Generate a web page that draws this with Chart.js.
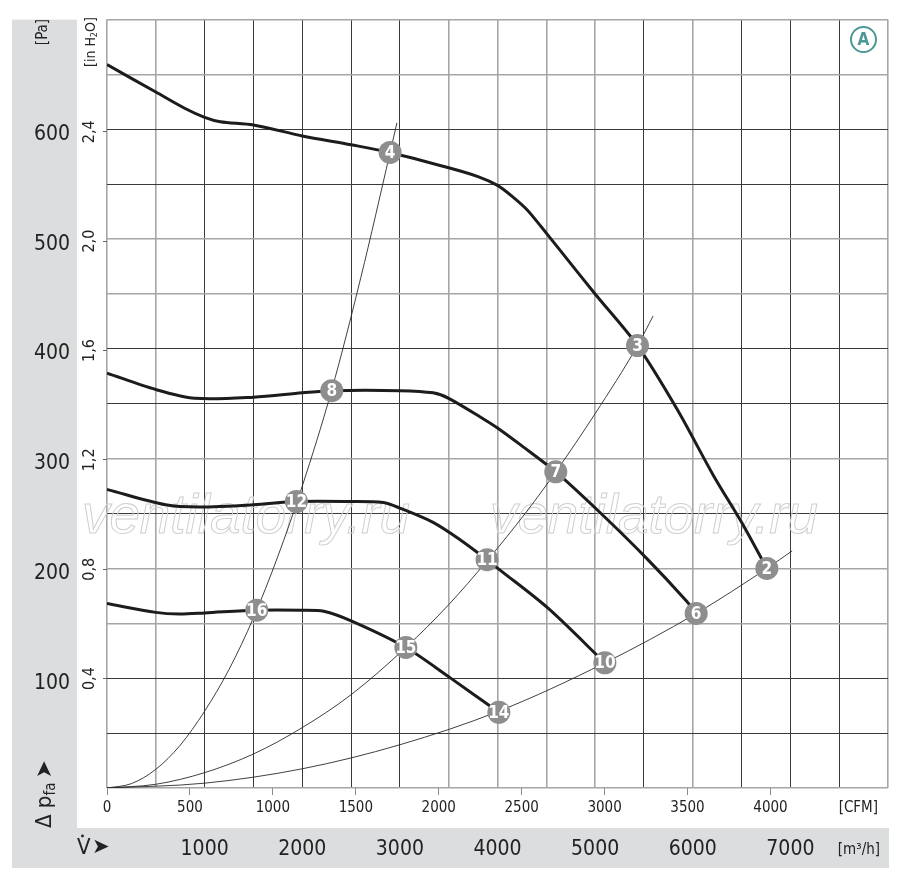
<!DOCTYPE html>
<html>
<head>
<meta charset="utf-8">
<script src="https://cdn.jsdelivr.net/npm/chart.js@4.4.1/dist/chart.umd.min.js"></script>
<style>
  html, body { margin: 0; padding: 0; background: #fff; }
  canvas { display: block; }
</style>
</head>
<body>
<canvas id="fanChart" width="900" height="880"></canvas>
<script>
// fan curves, flow in m3/h, static pressure in Pa
const curveTop = [[0, 659], [500, 634], [800, 619], [1000, 611], [1160, 607], [1500, 604], [2000, 594], [2500, 586], [2900, 579], [3500, 565], [3800, 557], [4000, 549], [4150, 539], [4300, 527], [4450, 511], [4640, 490], [5000, 450], [5434, 403], [5840, 345], [6210, 285], [6520, 239], [6759, 200]];
const curveMid = [[0, 378], [500, 363], [900, 355], [1500, 356], [2000, 360], [2302, 362], [3000, 362], [3340, 360], [3500, 355], [3860, 336], [4000, 328], [4230, 313], [4597, 288], [5050, 251], [5530, 209], [5940, 170], [6035, 159]];
const curveLow = [[0, 272], [600, 258], [950, 256], [1500, 258], [1940, 261], [2490, 261], [2830, 260], [3000, 255], [3340, 242], [3620, 226], [3893, 208], [4020, 199], [4515, 164], [5100, 114]];
const curveBottom = [[0, 168], [500, 160], [740, 158.5], [1000, 159.5], [1534, 162], [2000, 162], [2220, 161], [2507, 152], [3061, 128], [3506, 101], [4014, 69]];

// system resistance curves (thin)
const sysSteep = [[0, 0], [250, 4], [500, 17], [750, 39], [1000, 70], [1250, 108], [1500, 155], [1750, 211], [2000, 275], [2300, 362], [2600, 465], [2900, 579], [2970, 606]];
const sysMid = [[0, 0], [500, 3.4], [1000, 14], [1500, 31], [2000, 55], [2500, 85], [3061, 128], [3500, 167], [3893, 207], [4300, 252], [4597, 288], [5000, 341], [5434, 403], [5594, 430]];
const sysFlat = [[0, 0], [1000, 4.4], [2000, 17.5], [3000, 39.4], [4014, 70], [5100, 114], [6035, 159], [6759, 200], [7018, 216]];

// numbered operating points
const markerIds = [4, 3, 2, 8, 7, 6, 12, 11, 10, 16, 15, 14];
const markerFlow = [2900, 5434, 6759, 2302, 4597, 6035, 1940, 3893, 5100, 1534, 3061, 4014];
const markerPa = [579, 403, 200, 362, 288, 159, 261, 208, 114, 162, 128, 69];

// tick labels
const paLabels = [100, 200, 300, 400, 500, 600];
const inH2OTicks = [0.4, 0.8, 1.2, 1.6, 2.0, 2.4];
const inH2OLabels = ["0,4", "0,8", "1,2", "1,6", "2,0", "2,4"];
const cfmTicks = [0, 500, 1000, 1500, 2000, 2500, 3000, 3500, 4000];
const m3hLabels = [1000, 2000, 3000, 4000, 5000, 6000, 7000];

const M3H_PER_CFM = 1.699;
const PA_PER_INH2O = 249.09;
const X_MAX = 8000;
const Y_MAX = 700;

const FONT = "'Liberation Sans Narrow', 'DejaVu Sans Condensed', 'Roboto', sans-serif";
Chart.defaults.font.family = FONT;

// some grid lines print lighter in the original sheet
const GRID_DARK = "#3a3a3a";
const GRID_LIGHT = "#a6a6a6";
const lightX = [0, 1, 7, 8, 9, 10, 12, 16];
const lightY = [0, 3, 4, 6, 9, 10, 13, 14];

const toXY = (pairs) => pairs.map(([x, y]) => ({ x, y }));

function curve(pairs, width) {
    const thick = width > 2;
    return {
        data: toXY(pairs),
        showLine: true,
        borderColor: thick ? "#1c1c1c" : "#2a2a2a",
        borderWidth: width,
        pointRadius: 0,
        tension: thick ? 0.3 : 0.4,
        cubicInterpolationMode: thick ? "default" : "monotone",
    };
}

function rotatedText(ctx, text, x, y, font, align) {
    ctx.save();
    ctx.translate(x, y);
    ctx.rotate(-Math.PI / 2);
    ctx.font = font;
    ctx.textAlign = align || "center";
    ctx.textBaseline = "middle";
    ctx.fillText(text, 0, 0);
    ctx.restore();
}

const panels = {
    id: "panels",
    beforeDraw(chart) {
        const { ctx, chartArea, scales } = chart;
        ctx.save();
        ctx.fillStyle = "#dcdddf";
        const left = scales.y.left;
        const right = scales.y.right;
        const bottom = scales.x.bottom;
        ctx.fillRect(left, chartArea.top, right - left, bottom - chartArea.top);
        ctx.fillRect(left, scales.x.top, chartArea.right + 1 - left, bottom - scales.x.top);
        ctx.restore();
    },
};

const watermark = {
    id: "watermark",
    beforeDatasetsDraw(chart) {
        const { ctx } = chart;
        ctx.save();
        ctx.strokeStyle = "#cfcfcf";
        ctx.lineWidth = 1;
        ctx.font = "italic 46px 'Liberation Sans', Arial, sans-serif";
        const text = "ventilatorry.ru";
        const w = ctx.measureText(text).width;
        const size = 46 * 328 / w;
        ctx.font = `italic ${size}px 'Liberation Sans', Arial, sans-serif`;
        ctx.textBaseline = "alphabetic";
        ctx.strokeText(text, 82, 533);
        ctx.strokeText(text, 490, 533);
        ctx.restore();
    },
};

const markerText = {
    id: "markerText",
    afterDatasetsDraw(chart) {
        const { ctx } = chart;
        const meta = chart.getDatasetMeta(0);
        ctx.save();
        ctx.fillStyle = "#ffffff";
        ctx.font = `bold 17px ${FONT}`;
        ctx.textAlign = "center";
        ctx.textBaseline = "middle";
        meta.data.forEach((pt, i) => {
            ctx.fillText(String(markerIds[i]), pt.x, pt.y + 1);
        });
        ctx.restore();
    },
};

const titles = {
    id: "titles",
    afterDraw(chart) {
        const { ctx, chartArea, scales } = chart;
        ctx.save();
        ctx.fillStyle = "#222";

        rotatedText(ctx, "[Pa]", 43, 32, `15px ${FONT}`);

        // [in H2O] with subscript 2
        ctx.save();
        ctx.translate(91, 67);
        ctx.rotate(-Math.PI / 2);
        ctx.textBaseline = "middle";
        ctx.textAlign = "left";
        ctx.font = `14px ${FONT}`;
        let pos = 0;
        ctx.fillText("[in H", pos, 0);
        pos += ctx.measureText("[in H").width;
        ctx.font = `9px ${FONT}`;
        ctx.fillText("2", pos, 4);
        pos += ctx.measureText("2").width;
        ctx.font = `14px ${FONT}`;
        ctx.fillText("O]", pos, 0);
        ctx.restore();

        // Δ p_fa with arrow
        ctx.save();
        ctx.translate(45, 828);
        ctx.rotate(-Math.PI / 2);
        ctx.textBaseline = "middle";
        ctx.textAlign = "left";
        ctx.font = `22px ${FONT}`;
        pos = 0;
        ctx.fillText("\u0394 p", pos, 0);
        pos += ctx.measureText("\u0394 p").width;
        ctx.font = `15px ${FONT}`;
        ctx.fillText("fa", pos, 6);
        pos += ctx.measureText("fa").width + 4;
        ctx.font = "22px 'DejaVu Sans', sans-serif";
        ctx.fillText("\u27A4", pos, 0);
        ctx.restore();

        // CFM unit
        ctx.font = `15px ${FONT}`;
        ctx.textAlign = "right";
        ctx.textBaseline = "middle";
        ctx.fillText("[CFM]", chartArea.right - 10, scales.xCfm.top + 20);

        // m3/h unit
        ctx.fillText("[m\u00B3/h]", chartArea.right - 8, scales.x.top + 22);

        // V-dot with arrow
        ctx.textAlign = "left";
        ctx.font = `22px ${FONT}`;
        ctx.fillText("V", 77, scales.x.top + 20);
        ctx.beginPath();
        ctx.arc(82.5, scales.x.top + 8, 1.4, 0, Math.PI * 2);
        ctx.fill();
        ctx.font = "21px 'DejaVu Sans', sans-serif";
        ctx.fillText("\u27A4", 92, scales.x.top + 20);

        // curve set badge
        ctx.strokeStyle = "#4b9894";
        ctx.fillStyle = "#4b9894";
        ctx.lineWidth = 2;
        ctx.beginPath();
        ctx.arc(863.5, 39.5, 12.5, 0, Math.PI * 2);
        ctx.stroke();
        ctx.font = `bold 17px ${FONT}`;
        ctx.textAlign = "center";
        ctx.fillText("A", 863.5, 40.5);
        ctx.restore();
    },
};

new Chart(document.getElementById("fanChart"), {
    type: "scatter",
    data: {
        datasets: [
            {
                data: markerFlow.map((x, i) => ({ x, y: markerPa[i] })),
                pointRadius: 11.5,
                pointBackgroundColor: "#8e8e8e",
                pointBorderWidth: 0,
                showLine: false,
            },
            curve(curveTop, 3),
            curve(curveMid, 3),
            curve(curveLow, 3),
            curve(curveBottom, 3),
            curve(sysSteep, 0.9),
            curve(sysMid, 0.9),
            curve(sysFlat, 0.9),
        ],
    },
    options: {
        responsive: false,
        animation: false,
        layout: { padding: { left: 12, right: 12, top: 14, bottom: 12 } },
        plugins: { legend: { display: false }, tooltip: { enabled: false } },
        scales: {
            x: {
                type: "linear",
                position: "bottom",
                weight: 2,
                min: 0,
                max: X_MAX,
                ticks: {
                    stepSize: 500,
                    autoSkip: false,
                    maxRotation: 0,
                    padding: 9,
                    color: "#222",
                    font: { size: 21 },
                    callback: (v) => (m3hLabels.includes(v) ? String(v) : ""),
                },
                grid: {
                    drawTicks: false,
                    color: (c) => (lightX.includes(c.index) ? GRID_LIGHT : GRID_DARK),
                    lineWidth: (c) => (lightX.includes(c.index) ? 1.6 : 1),
                },
                border: { display: false },
                afterFit: (s) => { s.height = 40; },
            },
            xCfm: {
                type: "linear",
                position: "bottom",
                weight: 1,
                min: 0,
                max: X_MAX / M3H_PER_CFM,
                afterBuildTicks: (s) => { s.ticks = cfmTicks.map((v) => ({ value: v })); },
                ticks: {
                    autoSkip: false,
                    maxRotation: 0,
                    padding: 4,
                    color: "#222",
                    font: { size: 15 },
                    callback: (v) => String(v),
                },
                grid: { drawOnChartArea: false, drawTicks: true, tickLength: 7, color: "#8a8a8a" },
                border: { display: false },
                afterFit: (s) => { s.height = 40; },
            },
            y: {
                position: "left",
                weight: 2,
                min: 0,
                max: Y_MAX,
                ticks: {
                    stepSize: 50,
                    autoSkip: false,
                    padding: 7,
                    labelOffset: 5,
                    color: "#222",
                    font: { size: 21 },
                    callback: (v) => (paLabels.includes(v) ? String(v) : ""),
                },
                grid: {
                    drawTicks: false,
                    color: (c) => (lightY.includes(c.index) ? GRID_LIGHT : GRID_DARK),
                    lineWidth: (c) => (lightY.includes(c.index) ? 1.6 : 1),
                },
                border: { display: false },
                afterFit: (s) => { s.width = 65; },
            },
            yIn: {
                position: "left",
                weight: 1,
                min: 0,
                max: Y_MAX / PA_PER_INH2O,
                afterBuildTicks: (s) => { s.ticks = inH2OTicks.map((v) => ({ value: v })); },
                ticks: {
                    minRotation: 90,
                    maxRotation: 90,
                    crossAlign: "center",
                    padding: 2,
                    color: "#222",
                    font: { size: 16 },
                    callback: (v, i) => inH2OLabels[i],
                },
                grid: { drawOnChartArea: false, drawTicks: true, tickLength: 4, color: "#666" },
                border: { display: false },
                afterFit: (s) => { s.width = 30; },
            },
        },
    },
    plugins: [panels, watermark, markerText, titles],
});
</script>
</body>
</html>
